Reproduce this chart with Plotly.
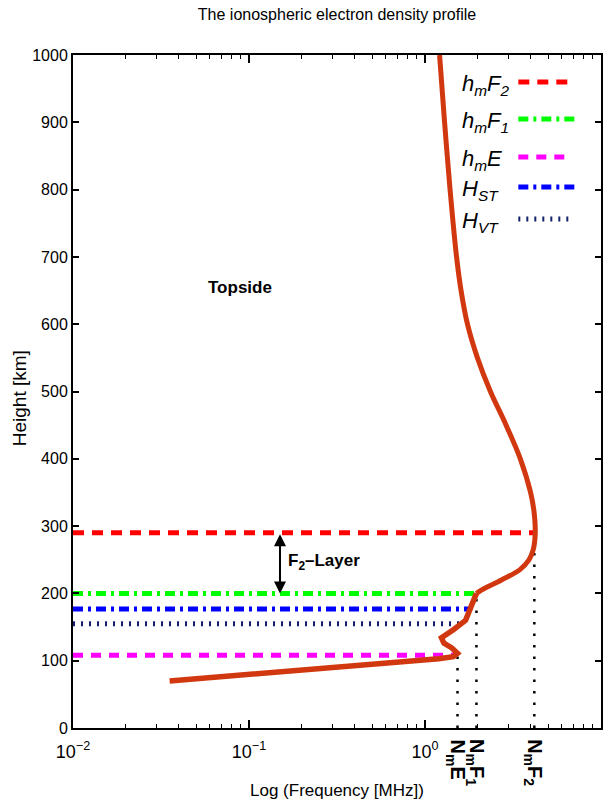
import math
import plotly.graph_objects as go

# ---------------- data ----------------
# upper (smooth) part of the profile: 1000 km down to the F1 ledge
upper_height = [1000, 900, 800, 700, 650, 600, 550, 500, 450, 400, 350, 320, 290,
                265, 250, 235, 220, 205, 200]
upper_freq = [1.21, 1.292, 1.388, 1.511, 1.603, 1.743, 1.986, 2.353, 2.89, 3.48, 3.98, 4.17, 4.23,
              4.12, 3.90, 3.45, 2.72, 2.09, 1.96]
# lower part: F1 ledge, E-layer valley/peak and bottom side
lower_height = [200, 180, 160, 146, 134, 126, 119, 111, 106, 103, 98, 91.4, 84.7, 78.8, 73.6, 70]
lower_freq = [1.96, 1.84, 1.70, 1.45, 1.24, 1.28, 1.42, 1.53, 1.45, 1.195, 0.71, 0.37, 0.193,
              0.1005, 0.0524, 0.0354]

layer_names = ["h<sub>m</sub>F<sub>2</sub>", "h<sub>m</sub>F<sub>1</sub>", "h<sub>m</sub>E",
               "H<sub>ST</sub>", "H<sub>VT</sub>"]
layer_heights = [290, 200, 108, 177, 155]
layer_end_freq = [4.23, 1.96, 1.49, 1.77, 1.60]
layer_start_freq = 0.01
layer_colors = ["#ff0000", "#00ff00", "#ff00ff", "#0000ff", "#14206e"]
layer_dash = ["11px,8px", "10px,5px,3px,5px", "10px,8px", "10px,5px,3px,5px", "2px,6px"]

peak_names = ["<b>N<sub>m</sub>E</b>", "<b>N<sub>m</sub>F<sub>1</sub></b>", "<b>N<sub>m</sub>F<sub>2</sub></b>"]
peak_freq = [1.53, 1.96, 4.18]
peak_top = [111, 200, 290]

x_tickvals = [0.01, 0.1, 1, 10]
x_ticktext = ["10<sup>−2</sup>", "10<sup>−1</sup>", "10<sup>0</sup>", "10<sup>1</sup>"]
x_minor = [m * 10 ** e for e in (-2, -1, 0) for m in range(2, 10)]

SANS = "Liberation Sans, Arial, Helvetica, sans-serif"
CURVE_COLOR = "#d2380f"

fig = go.Figure()

# horizontal layer lines
for h, fe, c, d in zip(layer_heights, layer_end_freq, layer_colors, layer_dash):
    fig.add_trace(go.Scatter(x=[layer_start_freq, fe], y=[h, h], mode="lines",
                             line=dict(color=c, width=5, dash=d), showlegend=False,
                             hoverinfo="skip"))

# vertical dotted lines at peak frequencies
for f, top in zip(peak_freq, peak_top):
    fig.add_trace(go.Scatter(x=[f, f], y=[0, top], mode="lines",
                             line=dict(color="black", width=2.5, dash="2.5px,9px"),
                             showlegend=False, hoverinfo="skip"))

# profile curve
fig.add_trace(go.Scatter(x=upper_freq, y=upper_height, mode="lines",
                         line=dict(color=CURVE_COLOR, width=5, shape="spline", smoothing=1.0),
                         showlegend=False))
fig.add_trace(go.Scatter(x=lower_freq, y=lower_height, mode="lines",
                         line=dict(color=CURVE_COLOR, width=5.5), showlegend=False))

# ---------------- layout geometry ----------------
L, R, T, B = 73, 8, 55, 77
W, H = 611, 805
pw, ph = W - L - R, H - T - B


def px_x(px):
    return (px - L) / pw


def px_y(py):
    return (H - B - py) / ph


shapes = []
annotations = []

# manual legend (text left, sample right)
leg_y = [82, 119, 157, 187, 219]
leg_x1 = [570, 579, 571, 578, 576]
for name, c, d, yy, x1 in zip(layer_names, layer_colors, layer_dash, leg_y, leg_x1):
    shapes.append(dict(type="line", xref="paper", yref="paper",
                       x0=px_x(520), x1=px_x(x1), y0=px_y(yy), y1=px_y(yy),
                       line=dict(color=c, width=5, dash=d)))
    annotations.append(dict(xref="paper", yref="paper", x=px_x(461), y=px_y(yy),
                            xanchor="left", yanchor="middle", yshift=-3,
                            text="<i>" + name + "</i>", showarrow=False,
                            font=dict(family=SANS, size=22, color="black")))

# peak labels under the axis
for name, f in zip(peak_names, peak_freq):
    annotations.append(dict(xref="x", yref="paper", x=math.log10(f), y=px_y(737),
                            xanchor="center", yanchor="top", textangle=90,
                            text=name, showarrow=False, xshift=-1,
                            font=dict(family=SANS, size=20, color="black")))

# F2-layer double arrow
arrow_x = math.log10(0.15)
annotations.append(dict(xref="x", yref="y", x=arrow_x, y=layer_heights[1],
                        axref="x", ayref="y", ax=arrow_x, ay=layer_heights[0],
                        showarrow=True, arrowhead=2, startarrowhead=2,
                        arrowside="end+start", arrowwidth=2, arrowsize=1.2,
                        arrowcolor="black", text=""))
annotations.append(dict(xref="x", yref="y", x=arrow_x, y=247, xanchor="left",
                        yanchor="middle", xshift=6, showarrow=False,
                        text="<b>F<sub>2</sub>–Layer</b>",
                        font=dict(family=SANS, size=17, color="black")))

# Topside label
annotations.append(dict(xref="x", yref="y", x=math.log10(0.0893), y=654,
                        showarrow=False, text="<b>Topside</b>",
                        font=dict(family=SANS, size=17, color="black")))

# axis titles
annotations.append(dict(xref="paper", yref="paper", x=0.5, y=px_y(790),
                        xanchor="center", yanchor="middle", showarrow=False,
                        text="Log (Frequency [MHz])",
                        font=dict(family=SANS, size=17, color="black")))
annotations.append(dict(xref="paper", yref="paper", x=px_x(19), y=px_y(398),
                        xanchor="center", yanchor="middle", showarrow=False,
                        textangle=-90, text="Height [km]",
                        font=dict(family=SANS, size=19, color="black")))

fig.update_layout(
    width=W, height=H,
    margin=dict(l=L, r=R, t=T, b=B),
    paper_bgcolor="white", plot_bgcolor="white",
    title=dict(text="The ionospheric electron density profile",
               x=337 / W, xanchor="center", y=1 - 14 / H, yanchor="middle",
               font=dict(family=SANS, size=16, color="black")),
    shapes=shapes, annotations=annotations, showlegend=False,
    xaxis=dict(type="log", range=[-2, 1], tickvals=x_tickvals, ticktext=x_ticktext,
               ticks="inside", ticklen=8, tickwidth=1.5, tickcolor="black",
               showline=True, linecolor="black", linewidth=2, mirror="ticks",
               showgrid=False, zeroline=False, ticklabelstandoff=6,
               minor=dict(tickvals=x_minor, ticks="inside", ticklen=4,
                          tickwidth=1.2, tickcolor="black", showgrid=False),
               tickfont=dict(family=SANS, size=18, color="black")),
    yaxis=dict(range=[0, 1000], dtick=100, tick0=0,
               ticks="inside", ticklen=6, tickwidth=1.5, tickcolor="black",
               showline=True, linecolor="black", linewidth=2, mirror="ticks",
               showgrid=False, zeroline=False,
               tickfont=dict(family=SANS, size=16, color="black")),
)

fig.write_html("out.html")
